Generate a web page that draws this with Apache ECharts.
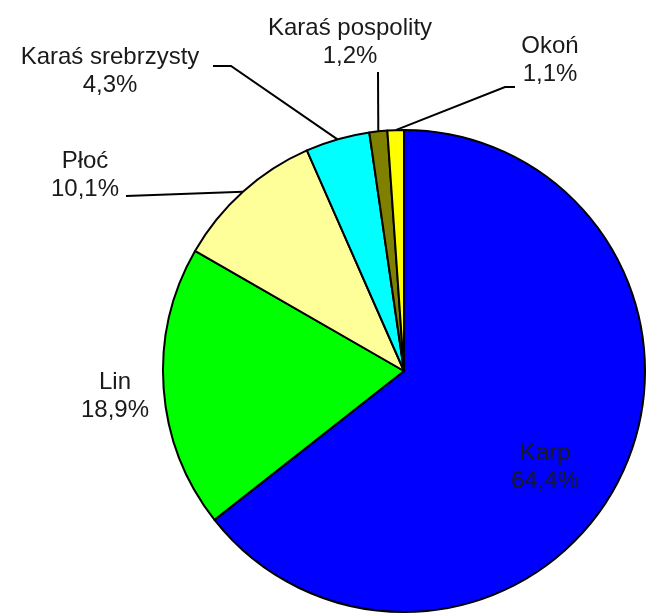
<!DOCTYPE html>
<html>
<head>
<meta charset="utf-8">
<script src="https://cdn.jsdelivr.net/npm/echarts@6/dist/echarts.min.js"></script>
<style>
  html, body { margin: 0; padding: 0; background: #fff; }
  #pie { width: 647px; height: 614px; }
</style>
</head>
<body>
<div id="pie"></div>
<script>
// gatunki ryb i udział procentowy
const names = ['Karp', 'Lin', 'Płoć', 'Karaś srebrzysty', 'Karaś pospolity', 'Okoń'];
const shares = [64.4, 18.9, 10.1, 4.3, 1.2, 1.1];
const colors = ['#0000ff', '#00ff00', '#ffff99', '#00ffff', '#808000', '#ffff00'];

// pozycje etykiet (środek bloku tekstu) i załamania linii
const labelXY = [[545, 467], [115, 396], [85, 175], [110, 71], [350, 42], [550, 60]];
const bendXY = [null, null, [[126, 196]], [[231, 66], [213, 66]], [[378, 72]], [[505, 87], [515, 87]]];

function pie_chart() {
    let dom = document.getElementById('pie');
    let chart = echarts.init(dom);

    let data = names.map(function (n, i) {
        let item = { name: n, value: shares[i], itemStyle: { color: colors[i] } };
        if (i === 0) item.label = { position: 'inside' };
        if (i === 1) item.labelLine = { show: false };
        return item;
    });

    let option = {
        animation: false,
        series: [
            {
                type: 'pie',
                center: [404, 371],
                radius: 241,
                startAngle: 90,
                clockwise: true,
                avoidLabelOverlap: false,
                itemStyle: { borderColor: '#000', borderWidth: 2 },
                emphasis: { disabled: true },
                label: {
                    show: true,
                    position: 'outside',
                    fontFamily: 'Liberation Sans',
                    fontSize: 24,
                    lineHeight: 28,
                    color: '#1a1a1a',
                    align: 'center',
                    formatter: function (p) {
                        return p.name + '\n' + p.value.toFixed(1).replace('.', ',') + '%';
                    }
                },
                labelLine: {
                    show: true,
                    lineStyle: { color: '#000', width: 2 }
                },
                labelLayout: function (p) {
                    let i = p.dataIndex;
                    let res = { x: labelXY[i][0], y: labelXY[i][1], align: 'center', verticalAlign: 'middle' };
                    if (bendXY[i] && p.labelLinePoints) {
                        res.labelLinePoints = [p.labelLinePoints[0]].concat(bendXY[i]);
                    }
                    return res;
                },
                data: data
            }
        ]
    };

    option && chart.setOption(option);
}

pie_chart();
</script>
</body>
</html>
